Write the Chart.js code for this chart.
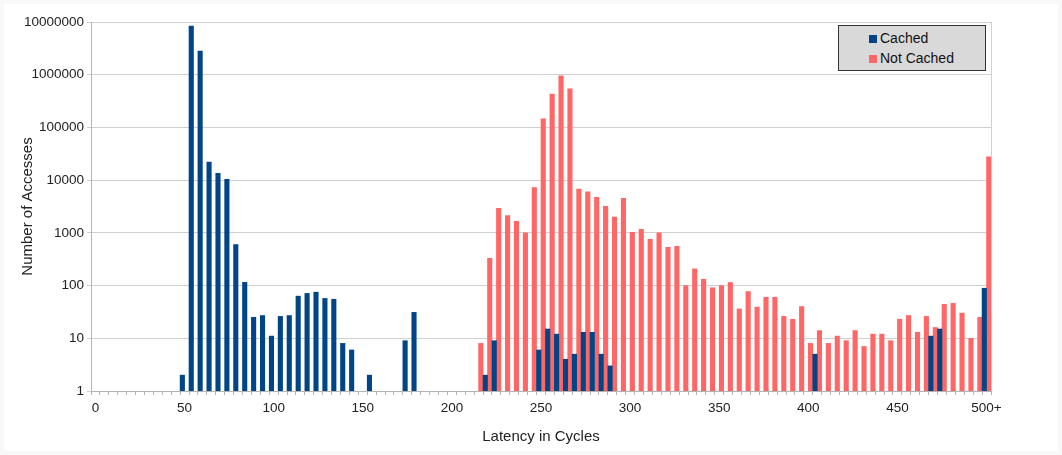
<!DOCTYPE html>
<html>
<head>
<meta charset="utf-8">
<script src="https://cdn.jsdelivr.net/npm/chart.js@4/dist/chart.umd.min.js"></script>
<style>
  body { margin: 0; background: #f8f8f8; font-family: "Liberation Sans", Arial, sans-serif; }
  #frame { position: absolute; left: 4px; top: 4px; width: 1054px; height: 447px; background: #fff; }
  #wrap { position: absolute; left: 0; top: 0; width: 1062px; height: 455px; }
  #legend {
    position: absolute; left: 838px; top: 25px; width: 148px; height: 46px;
    box-sizing: border-box; background: #d9d9d9; border: 1.5px solid #333;
    font-size: 14px; color: #111;
  }
  #legend div { position: absolute; left: 30px; height: 16px; line-height: 16px; }
  #legend span { display: inline-block; width: 8px; height: 8px; margin-right: 3px; vertical-align: 0px; }
</style>
</head>
<body>
<div id="frame"></div>
<div id="wrap"><canvas id="myChart" width="1062" height="455"></canvas></div>
<div id="legend"></div>
<script>
// latency bins of 5 cycles, last one collects everything above
const bins = []
for (let c = 0; c < 500; c += 5) bins.push(String(c))
bins.push('500+')

const tickLabels = ['0', '50', '100', '150', '200', '250', '300', '350', '400', '450', '500+']
const yTicks = [1, 10, 100, 1000, 10000, 100000, 1000000, 10000000]

// null = no bar
const cached = [
  null, null, null, null, null, null, null, null, null, null,
  2, 8400000, 2800000, 22000, 13500, 10400, 600, 115, 25, 27,
  11, 26, 27, 63, 71, 75, 57, 55, 8, 6,
  null, 2, null, null, null, 9, 31, null, null, null,
  null, null, null, null, 2, 9, null, null, null, null,
  6, 15, 12, 4, 5, 13, 13, 5, 3, null,
  null, null, null, null, null, null, null, null, null, null,
  null, null, null, null, null, null, null, null, null, null,
  null, 5, null, null, null, null, null, null, null, null,
  null, null, null, null, 11, 15, null, null, null, null,
  89
]

const notCached = [
  null, null, null, null, null, null, null, null, null, null,
  null, null, null, null, null, null, null, null, null, null,
  null, null, null, null, null, null, null, null, null, null,
  null, null, null, null, null, null, null, null, null, null,
  null, null, null, 8, 330, 2930, 2120, 1660, 1000, 7200,
  145000, 427000, 949000, 538000, 6800, 6000, 4730, 3200, 2000, 4530,
  1020, 1170, 755, 1000, 533, 557, 100, 207, 132, 91,
  100, 114, 36, 77, 39, 60, 60, 26, 23, 40,
  8, 14, 8, 11, 9, 14, 7, 12, 12, 9,
  23, 27, 13, 26, 16, 44, 46, 30, 10, 25,
  27600
]

const seriesNames = ['Cached', 'Not Cached']
const seriesColors = ['#004586', '#ff6666']

const canvas = document.getElementById('myChart')
const font = 'Liberation Sans'

// light frame on the right side of the plot
const plotBorder = {
  id: 'plotBorder',
  beforeDatasetsDraw(chart) {
    const a = chart.chartArea
    const ctx = chart.ctx
    ctx.save()
    ctx.strokeStyle = '#d0d0d0'
    ctx.lineWidth = 1
    ctx.beginPath()
    ctx.moveTo(a.right + 0.5, a.top)
    ctx.lineTo(a.right + 0.5, a.bottom)
    ctx.stroke()
    ctx.restore()
  }
}

const config = {
  type: 'bar',
  data: {
    labels: bins,
    datasets: [
      { label: seriesNames[0], data: cached, backgroundColor: seriesColors[0] },
      { label: seriesNames[1], data: notCached, backgroundColor: seriesColors[1] }
    ]
  },
  options: {
    responsive: false,
    animation: false,
    categoryPercentage: 1,
    barPercentage: 1,
    layout: { padding: { left: 0, right: 71, top: 22, bottom: 0 } },
    plugins: { legend: { display: false }, tooltip: { enabled: false } },
    scales: {
      x: {
        offset: true,
        grid: { drawOnChartArea: false, drawTicks: true, tickLength: 4, color: '#b3b3b3', offset: true },
        border: { color: '#b3b3b3' },
        ticks: {
          autoSkip: false, maxRotation: 0, minRotation: 0, padding: 5,
          color: '#222', font: { family: font, size: 13.5 },
          callback: (v, i) => tickLabels.includes(bins[i]) ? bins[i] : ''
        },
        title: { display: true, text: 'Latency in Cycles', color: '#222',
                 font: { family: font, size: 15 }, padding: { top: 0, bottom: 9 } },
        afterFit: s => { s.height = 64 }
      },
      y: {
        type: 'logarithmic',
        min: 1, max: 10000000,
        grid: { color: '#d0d0d0', tickLength: 4 },
        border: { color: '#b3b3b3' },
        afterBuildTicks: s => { s.ticks = yTicks.map(v => ({ value: v })) },
        ticks: { padding: 3, color: '#222', font: { family: font, size: 13.5 }, callback: v => String(v) },
        title: { display: true, text: 'Number of Accesses', color: '#222',
                 font: { family: font, size: 15 }, padding: { top: 19, bottom: 0 } },
        afterFit: s => { s.width = 91 }
      }
    }
  },
  plugins: [plotBorder]
}

const myChart = new Chart(canvas, config)

// legend box inside the plot, as in the original
const legend = document.getElementById('legend')
myChart.data.datasets.forEach((ds, i) => {
  const row = document.createElement('div')
  row.style.top = (4 + i * 20) + 'px'
  row.innerHTML = '<span style="background:' + ds.backgroundColor + '"></span>' + ds.label
  legend.appendChild(row)
})
</script>
</body>
</html>
